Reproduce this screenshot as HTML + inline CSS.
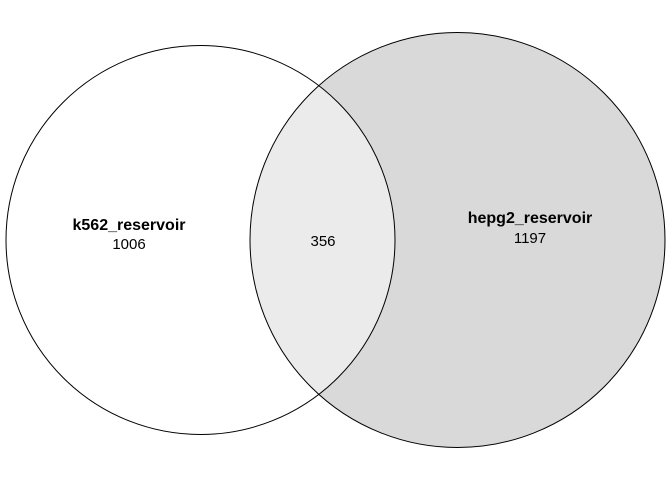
<!DOCTYPE html>
<html><head><style>body{margin:0;background:#fff}svg{display:block}</style></head><body>
<svg width="672" height="480" xmlns="http://www.w3.org/2000/svg" font-family="Liberation Sans, sans-serif" font-size="15">
<defs><clipPath id="c"><circle cx="200.5" cy="240" r="194.5"/></clipPath></defs>
<circle cx="457.5" cy="240" r="207.5" fill="#d9d9d9"/>
<circle cx="457.5" cy="240" r="207.5" fill="#ebebeb" clip-path="url(#c)"/>
<circle cx="200.5" cy="240" r="194.5" fill="none" stroke="#000" stroke-width="1"/>
<circle cx="457.5" cy="240" r="207.5" fill="none" stroke="#000" stroke-width="1"/>
<text x="129" y="230" text-anchor="middle" font-weight="bold" font-size="16">k562_reservoir</text>
<text x="129" y="249" text-anchor="middle">1006</text>
<text x="323" y="246" text-anchor="middle">356</text>
<text x="530" y="223" text-anchor="middle" font-weight="bold" font-size="16">hepg2_reservoir</text>
<text x="530" y="243" text-anchor="middle">1197</text>
</svg>
</body></html>
